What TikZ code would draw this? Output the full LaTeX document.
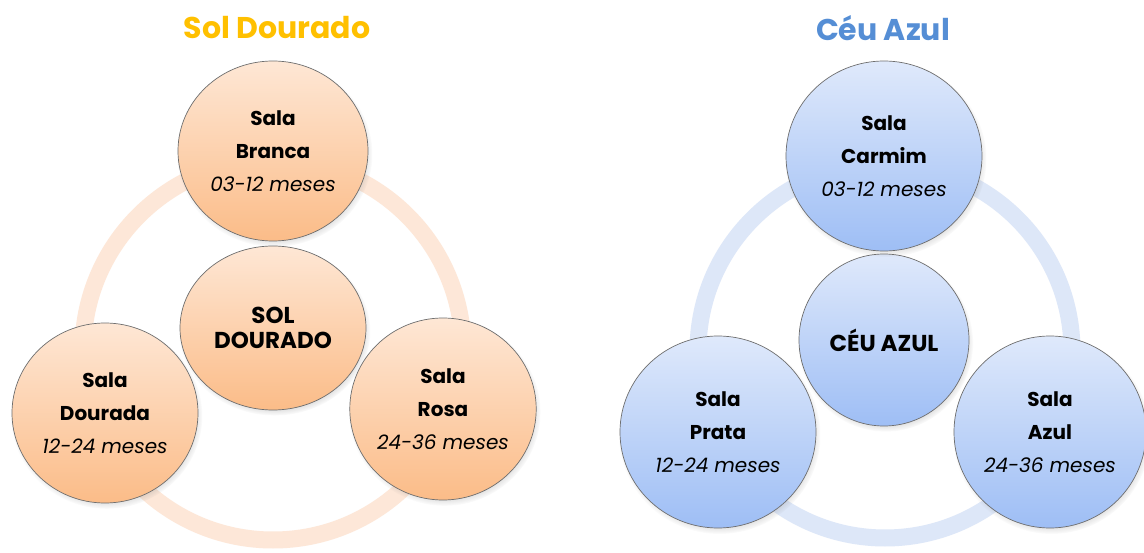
\documentclass[tikz,border=0pt]{standalone}
\usepackage{fontspec}
\setmainfont{Poppins}
\usetikzlibrary{shapes.geometric,shadows}
\definecolor{solgold}{HTML}{FFC000}
\definecolor{ceublue}{HTML}{558ED5}
\definecolor{oTop}{HTML}{FEE7D5}
\definecolor{oBot}{HTML}{FBBC88}
\definecolor{bTop}{HTML}{DFE9FB}
\definecolor{bBot}{HTML}{9EBEF5}
\definecolor{oRing}{HTML}{FDE7D8}
\definecolor{bRing}{HTML}{DDE7F8}
\definecolor{edgegray}{HTML}{6E6E6E}
\tikzset{
  bubble/.style={ellipse, draw=edgegray, line width=0.7pt, inner sep=0pt, align=center,
    circular drop shadow={shadow xshift=1.5pt, shadow yshift=-3pt, shadow scale=1.03, opacity=0.45}},
  orangeball/.style={bubble, top color=oTop, bottom color=oBot},
  blueball/.style={bubble, top color=bTop, bottom color=bBot},
  roomtext/.style={font=\fontsize{20}{33}\selectfont},
  hubtext/.style={font=\fontsize{23}{25}\selectfont\bfseries},
  titletext/.style={font=\fontsize{30}{36}\selectfont\bfseries, inner sep=0pt},
  ringline/.style={line width=17pt}
}
\begin{document}
\begin{tikzpicture}[x=1pt,y=-1pt]
\useasboundingbox[fill=white] (0,0) rectangle (1144,553);

% ---- Sol Dourado ----
\node[titletext, text=solgold] (t1) at (277,28) {Sol Dourado};
\draw[ringline, draw=oRing] (273,350) circle[radius=190pt];
\node[orangeball, hubtext, minimum width=186pt, minimum height=164pt] (sol) at (273,328) {SOL\\DOURADO};
\node[orangeball, roomtext, minimum width=190pt, minimum height=180pt] (branca) at (273,151)
  {\textbf{Sala}\\\textbf{Branca}\\\textit{03-12 meses}};
\node[orangeball, roomtext, minimum width=186pt, minimum height=180pt] (dourada) at (105,413)
  {\textbf{Sala}\\\textbf{Dourada}\\\textit{12-24 meses}};
\node[orangeball, roomtext, minimum width=186pt, minimum height=182pt] (rosa) at (443,409)
  {\textbf{Sala}\\\textbf{Rosa}\\\textit{24-36 meses}};

% ---- Ceu Azul ----
\node[titletext, text=ceublue] (t2) at (883,28) {Céu Azul};
\draw[ringline, draw=bRing] (885,351) circle[radius=187pt];
\node[blueball, hubtext, minimum width=170pt, minimum height=172pt] (ceu) at (884,340) {CÉU AZUL};
\node[blueball, roomtext, minimum width=196pt, minimum height=190pt] (carmim) at (884,156)
  {\textbf{Sala}\\\textbf{Carmim}\\\textit{03-12 meses}};
\node[blueball, roomtext, minimum width=196pt, minimum height=192pt] (prata) at (718,432)
  {\textbf{Sala}\\\textbf{Prata}\\\textit{12-24 meses}};
\node[blueball, roomtext, minimum width=192pt, minimum height=192pt] (azul) at (1050,432)
  {\textbf{Sala}\\\textbf{Azul}\\\textit{24-36 meses}};
\end{tikzpicture}
\end{document}
